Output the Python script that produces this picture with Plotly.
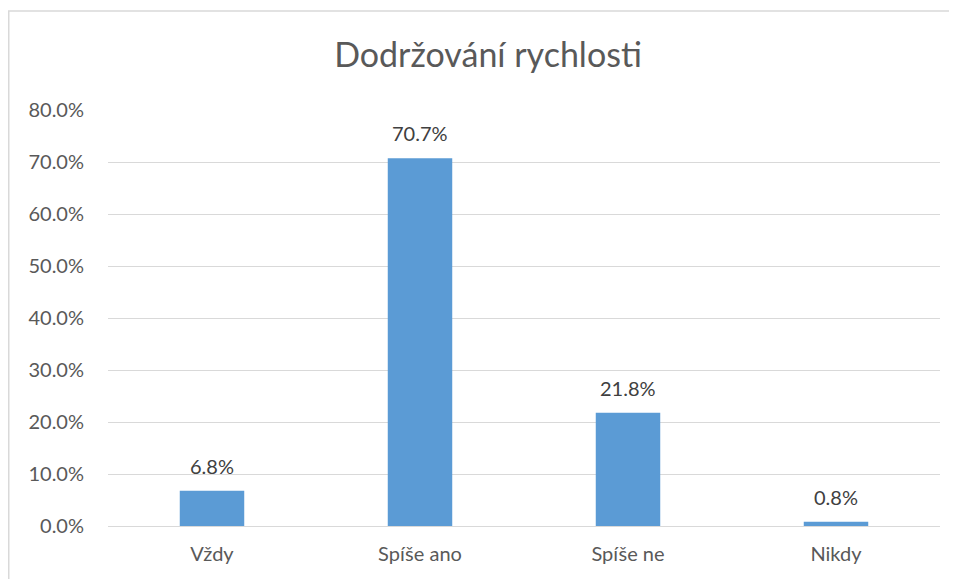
import plotly.graph_objects as go

categories = ["Vždy", "Spíše ano", "Spíše ne", "Nikdy"]
values = [6.8, 70.7, 21.8, 0.8]
tick_vals = [0, 10, 20, 30, 40, 50, 60, 70, 80]
tick_text = [f"{v:.1f}%" for v in tick_vals]
labels = [f"{v:.1f}%" for v in values]

FONT = "Lato, Carlito, Calibri, sans-serif"
GREY = "#595959"

# page offset (browser body margin) compensation
OFF = 8
W, H = 957 - OFF, 579 - OFF
L, T = 108 - OFF, 110 - OFF
R, B = W - (940 - OFF), H - (526 - OFF)
PW, PH = 940 - 108, 526 - 110

fig = go.Figure(go.Bar(
    x=categories, y=values,
    marker=dict(color="#5B9BD5", line=dict(width=0)),
    hoverinfo="x+y",
))

for c, v, t in zip(categories, values, labels):
    fig.add_annotation(x=c, y=v, text=t, showarrow=False, yanchor="bottom",
                       yshift=11, font=dict(family=FONT, size=20, color="#404040"))

fig.update_layout(
    width=W, height=H,
    margin=dict(l=L, r=R, t=T, b=B),
    paper_bgcolor="white", plot_bgcolor="white",
    showlegend=False,
    bargap=0.69,
    font=dict(family=FONT, color=GREY),
    title=dict(text="Dodržování rychlosti", x=(488 - OFF) / W, xanchor="center",
               y=1 - 47 / H, yanchor="middle",
               font=dict(family=FONT, size=34, color=GREY)),
    xaxis=dict(showgrid=False, showline=False, ticks="",
               tickfont=dict(family=FONT, size=20, color=GREY),
               ticklabelstandoff=14),
    yaxis=dict(range=[0, 80], tickvals=tick_vals, ticktext=tick_text,
               showgrid=True, gridcolor="#D9D9D9", gridwidth=1,
               zeroline=True, zerolinecolor="#D9D9D9", zerolinewidth=1,
               showline=False, ticks="",
               tickfont=dict(family=FONT, size=20, color=GREY),
               ticklabelstandoff=23),
    shapes=[dict(type="rect", xref="paper", yref="paper",
                 x0=(0.75 - L) / PW, x1=1.2, y0=-0.3, y1=(PH + T - 3) / PH,
                 line=dict(color="#D9D9D9", width=1.5), fillcolor="rgba(0,0,0,0)",
                 layer="below")],
)

fig.write_html("out.html", config={"displayModeBar": False})
